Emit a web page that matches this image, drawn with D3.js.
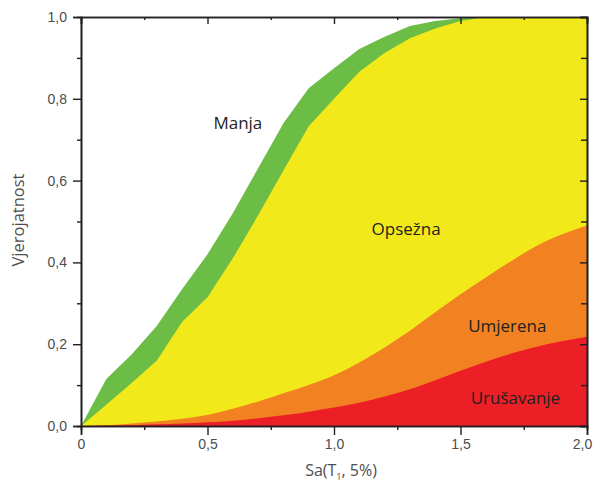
<!DOCTYPE html>
<html>
<head>
<meta charset="utf-8">
<script src="https://cdn.jsdelivr.net/npm/d3@7"></script>
<style>
  html, body { margin: 0; padding: 0; background: #fff; }
  svg { display: block; font-family: "Open Sans", sans-serif; }
</style>
</head>
<body>
<div id="chart"></div>
<script>
// Sa(T1, 5%) Werte
const sa = [0, 0.1, 0.2, 0.3, 0.4, 0.5, 0.6, 0.7, 0.8, 0.9, 1.0,
            1.1, 1.2, 1.3, 1.4, 1.5, 1.6, 1.7, 1.8, 1.9, 2.0];

// kumulative Wahrscheinlichkeiten je Schadensgrenze
const manja = [0, 0.115, 0.175, 0.245, 0.335, 0.42, 0.52, 0.63, 0.74, 0.826, 0.875,
               0.922, 0.952, 0.978, 0.99, 0.997, 1.0, 1.0, 1.0, 1.0, 1.0];
const opsezna = [0, 0.052, 0.105, 0.16, 0.255, 0.315, 0.41, 0.515, 0.625, 0.733, 0.80,
                 0.866, 0.912, 0.948, 0.972, 0.99, 1.0, 1.0, 1.0, 1.0, 1.0];
const umjerena = [0, 0.002, 0.006, 0.011, 0.018, 0.027, 0.042, 0.06, 0.08, 0.1, 0.124,
                  0.155, 0.192, 0.233, 0.278, 0.322, 0.363, 0.403, 0.44, 0.468, 0.49];
const urusavanje = [0, 0.001, 0.002, 0.004, 0.006, 0.009, 0.013, 0.019, 0.026, 0.035, 0.045,
                    0.057, 0.072, 0.09, 0.112, 0.135, 0.157, 0.177, 0.194, 0.207, 0.218];

// Achsen
const xTicks = [0, 0.5, 1.0, 1.5, 2.0];
const xTickLabels = ["0", "0,5", "1,0", "1,5", "2,0"];
const xMinor = [0.25, 0.75, 1.25, 1.75];
const yTicks = [0, 0.2, 0.4, 0.6, 0.8, 1.0];
const yTickLabels = ["0,0", "0,2", "0,4", "0,6", "0,8", "1,0"];
const yMinor = [0.1, 0.3, 0.5, 0.7, 0.9];

const series = [
    {name: "Manja", values: manja, color: "#6cbd45", curve: d3.curveLinear, lx: 0.62, ly: 0.74},
    {name: "Opsežna", values: opsezna, color: "#f1e919", curve: d3.curveLinear, lx: 1.285, ly: 0.482},
    {name: "Umjerena", values: umjerena, color: "#f18121", curve: d3.curveMonotoneX, lx: 1.685, ly: 0.245},
    {name: "Urušavanje", values: urusavanje, color: "#ec1f26", curve: d3.curveMonotoneX, lx: 1.717, ly: 0.068}
];

const width = 593, height = 488;
const margin = {top: 17, right: 6, bottom: 62, left: 81};

const svg = d3.select("#chart").append("svg")
    .attr("width", width)
    .attr("height", height);

const x = d3.scaleLinear().domain([0, 2]).range([margin.left, width - margin.right]);
const y = d3.scaleLinear().domain([0, 1]).range([height - margin.bottom, margin.top]);

// Flächen zeichnen, von der größten zur kleinsten
series.forEach(s => {
    const area = d3.area()
        .x((d, i) => x(sa[i]))
        .y0(y(0))
        .y1(d => y(d))
        .curve(s.curve);
    svg.append("path")
        .datum(s.values)
        .attr("d", area)
        .attr("fill", s.color);
});

// Beschriftungen der Flächen
svg.selectAll(".area-label")
    .data(series)
    .join("text")
    .attr("class", "area-label")
    .attr("x", d => x(d.lx))
    .attr("y", d => y(d.ly))
    .attr("text-anchor", "middle")
    .attr("dy", "0.35em")
    .style("font-size", "17px")
    .style("fill", "#231f20")
    .text(d => d.name);

const axisColor = "#231f20";
function styleAxis(g) {
    g.select(".domain").attr("stroke", axisColor).attr("stroke-width", 1.6);
    g.selectAll(".tick line").attr("stroke", axisColor).attr("stroke-width", 1.4);
    g.selectAll(".tick text").style("font-size", "14px").style("fill", "#4d4d4f");
}

// untere Achse
svg.append("g")
    .attr("transform", `translate(0,${y(0)})`)
    .call(d3.axisBottom(x).tickValues(xMinor).tickSize(4).tickFormat(""))
    .call(styleAxis);
const xAxis = svg.append("g")
    .attr("transform", `translate(0,${y(0)})`)
    .call(d3.axisBottom(x).tickValues(xTicks).tickSize(9).tickPadding(4)
        .tickFormat((d, i) => xTickLabels[i]))
    .call(styleAxis);
// letzte Beschriftung leicht nach links, damit sie nicht abgeschnitten wird
xAxis.selectAll(".tick text").filter(d => d === 2).attr("dx", -5);

// obere Achse (Ticks nach innen)
svg.append("g")
    .attr("transform", `translate(0,${y(1)})`)
    .call(d3.axisTop(x).tickValues(xMinor).tickSize(-3).tickFormat(""))
    .call(styleAxis);
svg.append("g")
    .attr("transform", `translate(0,${y(1)})`)
    .call(d3.axisTop(x).tickValues(xTicks).tickSize(-7).tickFormat(""))
    .call(styleAxis);

// linke Achse
svg.append("g")
    .attr("transform", `translate(${x(0)},0)`)
    .call(d3.axisLeft(y).tickValues(yMinor).tickSize(4).tickFormat(""))
    .call(styleAxis);
svg.append("g")
    .attr("transform", `translate(${x(0)},0)`)
    .call(d3.axisLeft(y).tickValues(yTicks).tickSize(8).tickPadding(6)
        .tickFormat((d, i) => yTickLabels[i]))
    .call(styleAxis);

// rechte Achse (Ticks nach innen)
svg.append("g")
    .attr("transform", `translate(${x(2)},0)`)
    .call(d3.axisRight(y).tickValues(yMinor).tickSize(-6).tickFormat(""))
    .call(styleAxis);
svg.append("g")
    .attr("transform", `translate(${x(2)},0)`)
    .call(d3.axisRight(y).tickValues(yTicks).tickSize(-7).tickFormat(""))
    .call(styleAxis);

// Achsentitel
const xTitle = svg.append("text")
    .attr("x", 341)
    .attr("y", 476)
    .attr("text-anchor", "middle")
    .style("font-size", "16px")
    .style("fill", "#4d4d4f");
xTitle.append("tspan").text("Sa(T");
xTitle.append("tspan").attr("dy", 4).style("font-size", "9px").text("1");
xTitle.append("tspan").attr("dy", -4).text(", 5%)");

svg.append("text")
    .attr("transform", `translate(24,220) rotate(-90)`)
    .attr("text-anchor", "middle")
    .style("font-size", "16.5px")
    .style("fill", "#4d4d4f")
    .text("Vjerojatnost");
</script>
</body>
</html>
